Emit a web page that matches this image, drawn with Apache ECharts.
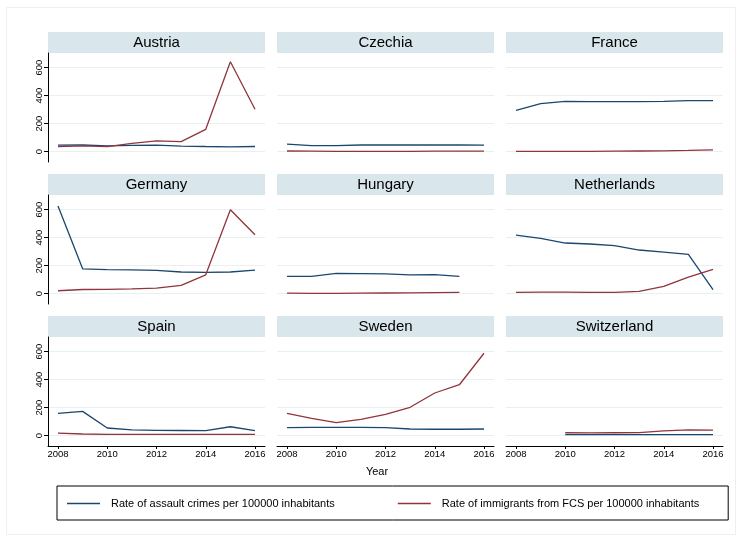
<!DOCTYPE html>
<html>
<head>
<meta charset="utf-8">
<title>Assault crimes and immigrants from FCS</title>
<script src="https://cdn.jsdelivr.net/npm/echarts@6.0.0/dist/echarts.min.js"></script>
<style>
  html, body { margin: 0; padding: 0; background: #ffffff; }
  #chart { width: 742px; height: 542px; }
</style>
</head>
<body>
<div id="chart"></div>
<script>
// Country panels, in reading order (3 x 3)
const countries = ['Austria', 'Czechia', 'France', 'Germany', 'Hungary', 'Netherlands', 'Spain', 'Sweden', 'Switzerland'];
const years = [2008, 2009, 2010, 2011, 2012, 2013, 2014, 2015, 2016];
const yearTicks = [2008, 2010, 2012, 2014, 2016];
const valueTicks = [0, 200, 400, 600];

// Rate of assault crimes per 100000 inhabitants
const assaultAustria     = [47, 48, 42, 45, 47, 40, 37, 35, 37];
const assaultCzechia     = [54, 44, 44, 48, 48, 49, 48, 48, 47];
const assaultFrance      = [296, 343, 360, 358, 357, 357, 360, 365, 365];
const assaultGermany     = [626, 178, 172, 170, 167, 155, 153, 155, 169];
const assaultHungary     = [124, 124, 145, 143, 141, 135, 136, 124, null];
const assaultNetherlands = [419, 395, 362, 355, 343, 312, 297, 281, 29];
const assaultSpain       = [160, 174, 55, 42, 38, 37, 36, 64, 36];
const assaultSweden      = [57, 60, 60, 60, 57, 48, 46, 46, 48];
const assaultSwitzerland = [null, null, 7, 7, 7, 7, 7, 7, 7];

// Rate of immigrants from FCS per 100000 inhabitants
const immigAustria     = [36, 42, 36, 60, 77, 72, 160, 643, 303];
const immigCzechia     = [5, 4, 3, 2, 3, 3, 4, 4, 4];
const immigFrance      = [2, 2, 2, 3, 4, 5, 6, 9, 13];
const immigGermany     = [21, 30, 31, 34, 40, 59, 135, 600, 421];
const immigHungary     = [4, 3, 3, 4, 5, 6, 8, 10, null];
const immigNetherlands = [9, 11, 11, 10, 10, 16, 52, 119, 174];
const immigSpain       = [19, 12, 10, 10, 10, 10, 10, 10, 10];
const immigSweden      = [160, 124, 93, 117, 153, 203, 305, 364, 589];
const immigSwitzerland = [null, null, 21, 20, 21, 22, 34, 41, 40];

const assault = [assaultAustria, assaultCzechia, assaultFrance, assaultGermany, assaultHungary,
                 assaultNetherlands, assaultSpain, assaultSweden, assaultSwitzerland];
const immig = [immigAustria, immigCzechia, immigFrance, immigGermany, immigHungary,
               immigNetherlands, immigSpain, immigSweden, immigSwitzerland];

const nameAssault = 'Rate of assault crimes per 100000 inhabitants';
const nameImmig = 'Rate of immigrants from FCS per 100000 inhabitants';

const NAVY = '#1a476f';
const MAROON = '#90353b';
const STRIP = '#d9e6ec';
const GRID = '#e9f0f2';
const FONT = '"Liberation Sans", Arial, Helvetica, sans-serif';

// panel geometry
const colLeft = [48, 277, 506];
const panelW = 217;
const plotTop0 = 53;
const rowStep = 142;
const plotH = 109;
const stripH = 21;

function pairs(arr) {
  return years.map((y, k) => [y, arr[k]]);
}

const grids = [], xAxes = [], yAxes = [], series = [], graphics = [];

// faint outer frame of the graph region
graphics.push({
  type: 'rect', shape: { x: 6.5, y: 7.5, width: 729, height: 527 },
  style: { fill: 'none', stroke: '#efefef', lineWidth: 1 }, silent: true, z: -1
});

countries.forEach((c, i) => {
  const col = i % 3, row = Math.floor(i / 3);
  const left = colLeft[col];
  const top = plotTop0 + rowStep * row;
  grids.push({ left: left, top: top, width: panelW, height: plotH, containLabel: false });

  xAxes.push({
    type: 'value', gridIndex: i, min: 2007.594, max: 2016.406,
    axisLine: { show: row === 2, onZero: false, lineStyle: { color: '#000', width: 1 } },
    axisTick: { show: row === 2, length: 3, customValues: yearTicks, lineStyle: { color: '#000' } },
    axisLabel: {
      show: row === 2, customValues: yearTicks, fontSize: 9.5, color: '#000', fontFamily: FONT, margin: 3,
      formatter: v => String(Math.round(v))
    },
    splitLine: { show: false }
  });

  yAxes.push({
    type: 'value', gridIndex: i, min: -73.6, max: 705,
    axisLine: { show: col === 0, onZero: false, lineStyle: { color: '#000', width: 1 } },
    axisTick: { show: col === 0, length: 4, customValues: valueTicks, lineStyle: { color: '#000' } },
    axisLabel: { show: col === 0, customValues: valueTicks, rotate: 90, fontSize: 9.5, color: '#000', fontFamily: FONT, margin: 4 },
    splitLine: { show: true, lineStyle: { color: GRID, width: 1 } }
  });

  series.push({
    name: nameAssault, type: 'line', xAxisIndex: i, yAxisIndex: i,
    data: pairs(assault[i]), showSymbol: false, connectNulls: false,
    lineStyle: { color: NAVY, width: 1.3 }, itemStyle: { color: NAVY }, z: 3
  });
  series.push({
    name: nameImmig, type: 'line', xAxisIndex: i, yAxisIndex: i,
    data: pairs(immig[i]), showSymbol: false, connectNulls: false,
    lineStyle: { color: MAROON, width: 1.3 }, itemStyle: { color: MAROON }, z: 3
  });

  // panel strip with country name
  graphics.push({
    type: 'rect', shape: { x: left, y: top - stripH, width: panelW, height: stripH },
    style: { fill: STRIP }, silent: true
  });
  graphics.push({
    type: 'text', x: left + panelW / 2, y: top - stripH / 2,
    style: { text: c, fill: '#000', font: '15px ' + FONT, textAlign: 'center', textVerticalAlign: 'middle' },
    silent: true
  });
});

// x-axis title
graphics.push({
  type: 'text', x: 377, y: 472,
  style: { text: 'Year', fill: '#000', font: '11px ' + FONT, textAlign: 'center', textVerticalAlign: 'middle' },
  silent: true
});

const chart = echarts.init(document.getElementById('chart'), null, { renderer: 'canvas' });
chart.setOption({
  backgroundColor: '#ffffff',
  animation: false,
  grid: grids,
  xAxis: xAxes,
  yAxis: yAxes,
  series: series,
  graphic: graphics,
  legend: {
    data: [nameAssault, nameImmig],
    left: 57, top: 486,
    orient: 'horizontal',
    icon: 'rect', itemWidth: 33, itemHeight: 1.6,
    itemGap: 63,
    padding: [12, 29, 11, 10],
    borderColor: '#000', borderWidth: 1,
    textStyle: { fontSize: 11, color: '#000', fontFamily: FONT, padding: [0, 0, 0, 6] },
    selectedMode: false
  }
});
</script>
</body>
</html>
